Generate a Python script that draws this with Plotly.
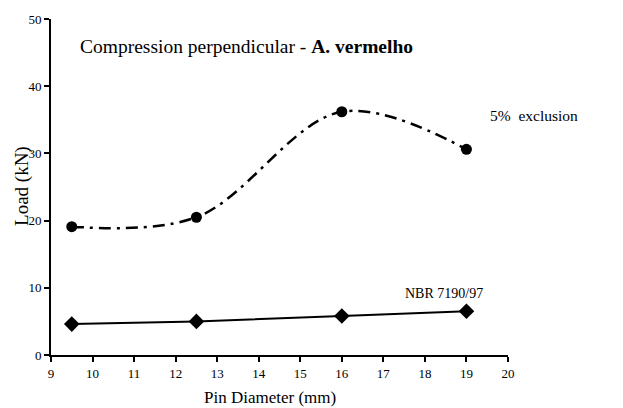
import plotly.graph_objects as go

x_pins = [9.5, 12.5, 16, 19]
excl_5 = [19.1, 20.5, 36.2, 30.6]
nbr = [4.6, 5.0, 5.8, 6.5]

x_ticks = list(range(9, 21))
y_ticks = [0, 10, 20, 30, 40, 50]

FONT = "Liberation Serif, Times New Roman, serif"

fig = go.Figure()
fig.add_trace(go.Scatter(
    x=x_pins, y=excl_5, mode="lines+markers",
    line=dict(color="black", width=2.5, dash="12px,6px,3px,6px", shape="spline", smoothing=1.0),
    marker=dict(symbol="circle", size=11, color="black"),
    name="5% exclusion", showlegend=False))
fig.add_trace(go.Scatter(
    x=x_pins, y=nbr, mode="lines+markers",
    line=dict(color="black", width=2),
    marker=dict(symbol="diamond", size=12, color="black"),
    name="NBR 7190/97", showlegend=False))

fig.add_annotation(x=9.65, y=45.9, text="Compression perpendicular - <b>A. vermelho</b>",
                   showarrow=False, xanchor="left", yanchor="middle",
                   font=dict(family=FONT, size=19.5, color="black"))
fig.add_annotation(x=19.52, y=35.6, text="5%  exclusion",
                   showarrow=False, xanchor="left", yanchor="middle",
                   font=dict(family=FONT, size=15.5, color="black"))
fig.add_annotation(x=17.47, y=9.2, text="NBR 7190/97",
                   showarrow=False, xanchor="left", yanchor="middle",
                   font=dict(family=FONT, size=14, color="black"))
# axis titles
fig.add_annotation(xref="paper", yref="paper", x=0.479, y=-0.127,
                   text="Pin Diameter (mm)", showarrow=False,
                   xanchor="center", yanchor="middle",
                   font=dict(family=FONT, size=17, color="black"))
fig.add_annotation(xref="paper", yref="paper", x=-0.0635, y=0.503,
                   text="Load (kN)", showarrow=False, textangle=-90,
                   xanchor="center", yanchor="middle",
                   font=dict(family=FONT, size=19, color="black"))

fig.update_layout(
    width=623, height=408,
    margin=dict(l=51, r=115, t=17, b=53),
    plot_bgcolor="white", paper_bgcolor="white",
    font=dict(family=FONT, color="black", size=13),
    xaxis=dict(range=[9, 20], tickvals=x_ticks, showgrid=False, zeroline=False,
               showline=True, linecolor="black", linewidth=2,
               ticks="outside", ticklen=5, tickwidth=2, tickcolor="black",
               tickfont=dict(size=13)),
    yaxis=dict(range=[0, 50], tickvals=y_ticks, showgrid=False, zeroline=False,
               showline=True, linecolor="black", linewidth=2,
               ticks="outside", ticklen=5, tickwidth=2, tickcolor="black",
               tickfont=dict(size=13)),
)

fig.write_html("out.html")
